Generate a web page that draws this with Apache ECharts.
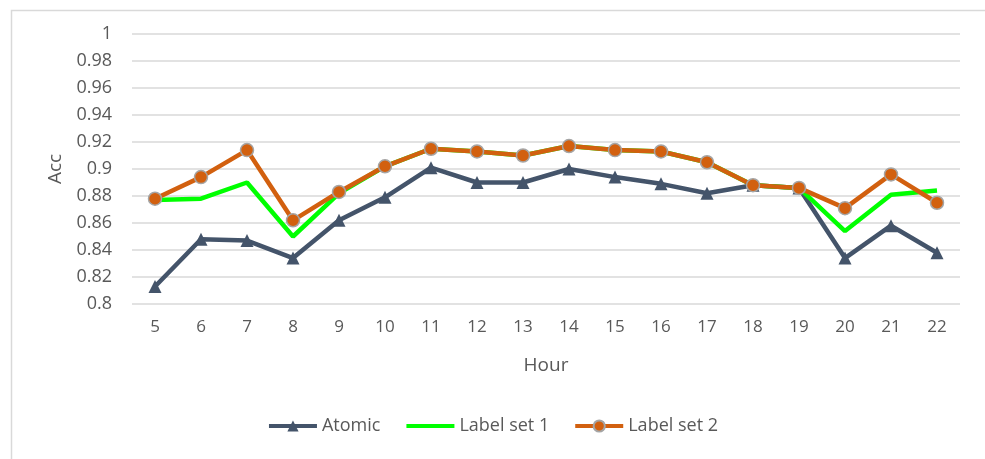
<!DOCTYPE html>
<html>
<head>
<meta charset="utf-8">
<script src="https://cdn.jsdelivr.net/npm/echarts@6/dist/echarts.min.js"></script>
<style>
html,body{margin:0;padding:0;background:#fff;}
#chart{width:985px;height:459px;}
</style>
</head>
<body>
<div id="chart"></div>
<script>
const hours = ['5','6','7','8','9','10','11','12','13','14','15','16','17','18','19','20','21','22'];
const atomic = [0.813,0.848,0.847,0.834,0.862,0.879,0.901,0.890,0.890,0.900,0.894,0.889,0.882,0.888,0.886,0.834,0.858,0.838];
const labelSet1 = [0.877,0.878,0.890,0.850,0.882,0.902,0.915,0.913,0.910,0.917,0.914,0.913,0.905,0.888,0.886,0.854,0.881,0.884];
const labelSet2 = [0.878,0.894,0.914,0.862,0.883,0.902,0.915,0.913,0.910,0.917,0.914,0.913,0.905,0.888,0.886,0.871,0.896,0.875];
const yTicks = [0.8,0.82,0.84,0.86,0.88,0.9,0.92,0.94,0.96,0.98,1];

const FONT = '"Open Sans", "Noto Sans", sans-serif';
const TXT = '#595959';
const chart = echarts.init(document.getElementById('chart'));
chart.setOption({
  animation: false,
  backgroundColor: '#ffffff',
  graphic: [{
    type: 'rect', left: 9, top: 8,
    shape: {width: 975, height: 460},
    style: {fill: 'none', stroke: '#d9d9d9', lineWidth: 1.5},
    silent: true, z: -1
  }],
  grid: {left: 132, right: 25, top: 34, bottom: 155},
  legend: {
    bottom: 19, left: 'center',
    itemWidth: 48, itemHeight: 14, itemGap: 24,
    lineStyle: {width: 4},
    textStyle: {fontFamily: FONT, fontSize: 18, color: TXT},
    data: ['Atomic', {name: 'Label set 1', itemStyle: {opacity: 0}}, 'Label set 2']
  },
  xAxis: {
    type: 'category', data: hours, boundaryGap: true,
    name: 'Hour', nameLocation: 'middle', nameGap: 52,
    nameTextStyle: {fontFamily: FONT, fontSize: 19, color: TXT},
    axisLine: {show: false}, axisTick: {show: false},
    axisLabel: {fontFamily: FONT, fontSize: 17, color: TXT, margin: 15}
  },
  yAxis: {
    type: 'value', min: 0.8, max: 1, interval: 0.02,
    name: 'Acc', nameLocation: 'middle', nameGap: 66,
    nameTextStyle: {fontFamily: FONT, fontSize: 19, color: TXT},
    axisLabel: {fontFamily: FONT, fontSize: 18, color: TXT, margin: 20,
      formatter: v => { const t = yTicks.find(x => Math.abs(x - v) < 1e-9); return String(t !== undefined ? t : +v.toFixed(2)); }},
    splitLine: {lineStyle: {color: '#d9d9d9', width: 1.5}}
  },
  series: [
    {
      name: 'Atomic', type: 'line', data: atomic,
      symbol: 'triangle', symbolSize: 13, showAllSymbol: true,
      lineStyle: {color: '#44546A', width: 4.5},
      itemStyle: {color: '#44546A'}, z: 2
    },
    {
      name: 'Label set 1', type: 'line', data: labelSet1,
      symbol: 'none',
      lineStyle: {color: '#00FF00', width: 4.5},
      itemStyle: {color: '#00FF00'}, z: 3
    },
    {
      name: 'Label set 2', type: 'line', data: labelSet2,
      symbol: 'circle', symbolSize: 13, showAllSymbol: true,
      lineStyle: {color: '#D2600F', width: 4.5},
      itemStyle: {color: '#D2600F', borderColor: '#A5A5A5', borderWidth: 1.5}, z: 4
    }
  ]
});
</script>
</body>
</html>
